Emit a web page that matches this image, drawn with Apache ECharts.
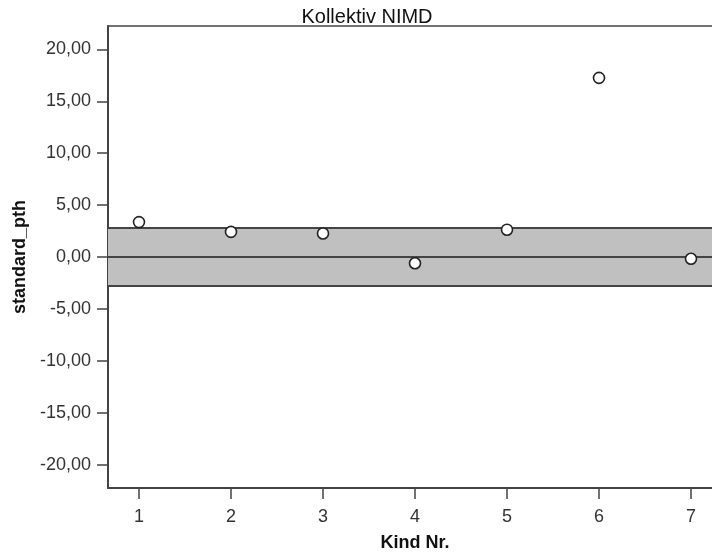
<!DOCTYPE html>
<html>
<head>
<meta charset="utf-8">
<script src="https://cdn.jsdelivr.net/npm/echarts@6/dist/echarts.min.js"></script>
<style>html,body{margin:0;padding:0;background:#fff}#c{width:712px;height:553px}</style>
</head>
<body>
<div id="c"></div>
<script>
const kindNr = [1, 2, 3, 4, 5, 6, 7];
const standardPth = [3.36, 2.42, 2.27, -0.60, 2.63, 17.25, -0.17];
const bandLimits = [-2.8, 2.8];
const refLine = 0;
const yTicks = [-20, -15, -10, -5, 0, 5, 10, 15, 20];
const xTicks = [1, 2, 3, 4, 5, 6, 7];

const fmt = v => v.toFixed(2).replace('.', ',');
const font = 'Liberation Sans, Arial, sans-serif';

const chart = echarts.init(document.getElementById('c'), null, {renderer: 'canvas'});
chart.setOption({
  animation: false,
  backgroundColor: '#fff',
  title: {
    text: 'Kollektiv NIMD',
    left: 362, top: 2, textAlign: 'center',
    textStyle: {fontFamily: font, fontSize: 20, fontWeight: 'normal', color: '#111'}
  },
  grid: {left: 108, top: 26, bottom: 65, width: 614, outerBoundsMode: 'none', containLabel: false,
         show: true, borderColor: '#444', borderWidth: 1.5},
  xAxis: {
    type: 'value', min: 0.663, max: 7.337,
    name: 'Kind Nr.', nameLocation: 'middle', nameGap: 46,
    nameTextStyle: {fontFamily: font, fontSize: 18, fontWeight: 'bold', color: '#111'},
    axisLine: {show: true, onZero: false, lineStyle: {color: '#444', width: 2}},
    axisTick: {show: true, length: 11, customValues: xTicks, lineStyle: {color: '#444', width: 1.5}},
    axisLabel: {customValues: xTicks, margin: 20, fontFamily: font, fontSize: 18, color: '#333'},
    splitLine: {show: false}
  },
  yAxis: {
    type: 'value', min: -22.25, max: 22.25,
    name: 'standard_pth', nameLocation: 'middle', nameGap: 76, nameRotate: 90,
    nameTextStyle: {fontFamily: font, fontSize: 18, fontWeight: 'bold', color: '#111'},
    axisLine: {show: true, onZero: false, lineStyle: {color: '#444', width: 2}},
    axisTick: {show: true, length: 11, customValues: yTicks, lineStyle: {color: '#444', width: 1.5}},
    axisLabel: {customValues: yTicks, margin: 17, formatter: fmt, fontFamily: font, fontSize: 18, color: '#333'},
    splitLine: {show: false}
  },
  series: [{
    type: 'scatter',
    data: kindNr.map((k, i) => [k, standardPth[i]]),
    symbol: 'circle', symbolSize: 11,
    itemStyle: {color: '#fff', borderColor: '#222', borderWidth: 1.6, opacity: 1},
    z: 5,
    markArea: {
      silent: true,
      itemStyle: {color: '#c0c0c0', opacity: 1},
      data: [[{yAxis: bandLimits[0]}, {yAxis: bandLimits[1]}]]
    },
    markLine: {
      silent: true, symbol: ['none', 'none'], label: {show: false},
      lineStyle: {color: '#444', width: 2, type: 'solid'},
      data: [{yAxis: bandLimits[0]}, {yAxis: refLine}, {yAxis: bandLimits[1]}]
    }
  }]
});
</script>
</body>
</html>
